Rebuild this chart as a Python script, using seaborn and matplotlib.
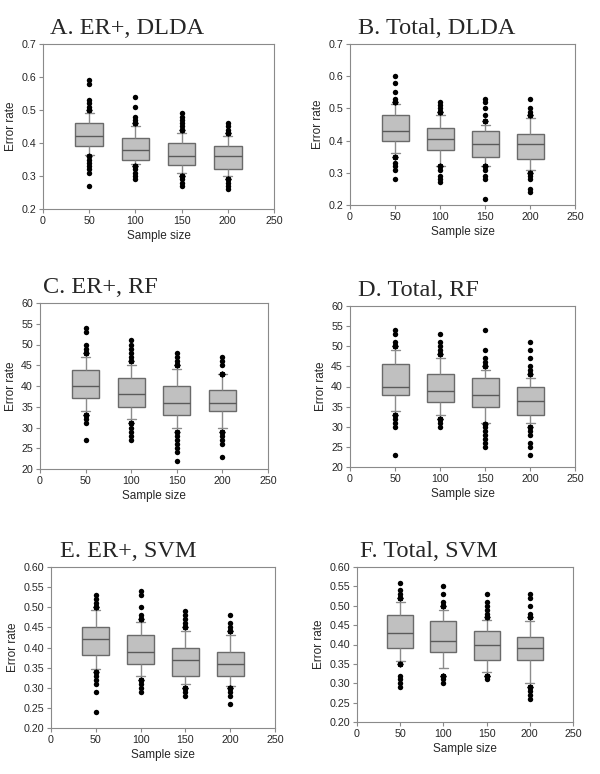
import numpy as np
import pandas as pd
import matplotlib
matplotlib.use("Agg")
import matplotlib.pyplot as plt
import seaborn as sns
from matplotlib.ticker import FormatStrFormatter, MultipleLocator

sizes = [50, 100, 150, 200]
titles = ["A. ER+, DLDA", "B. Total, DLDA", "C. ER+, RF",
          "D. Total, RF", "E. ER+, SVM", "F. Total, SVM"]

# (whisker low, Q1, median, Q3, whisker high) per sample size
A_stats = [(0.365, 0.39, 0.42, 0.46, 0.49), (0.335, 0.35, 0.38, 0.415, 0.45),
           (0.31, 0.332, 0.36, 0.40, 0.43), (0.30, 0.32, 0.36, 0.39, 0.42)]
A_low = [[0.27, 0.31, 0.32, 0.33, 0.34, 0.35, 0.36], [0.29, 0.30, 0.31, 0.32, 0.33],
         [0.27, 0.28, 0.29, 0.30], [0.26, 0.27, 0.28, 0.29]]
A_high = [[0.50, 0.51, 0.52, 0.53, 0.58, 0.59], [0.46, 0.47, 0.48, 0.51, 0.54],
          [0.44, 0.45, 0.46, 0.47, 0.48, 0.49], [0.43, 0.44, 0.45, 0.46]]

B_stats = [(0.362, 0.40, 0.43, 0.48, 0.513), (0.322, 0.37, 0.405, 0.44, 0.48),
           (0.322, 0.35, 0.39, 0.43, 0.45), (0.31, 0.343, 0.39, 0.42, 0.47)]
B_low = [[0.28, 0.31, 0.32, 0.33, 0.35], [0.27, 0.28, 0.29, 0.31, 0.32],
         [0.22, 0.28, 0.29, 0.31, 0.32], [0.24, 0.25, 0.28, 0.29, 0.30]]
B_high = [[0.52, 0.53, 0.55, 0.58, 0.60], [0.49, 0.50, 0.51, 0.52],
          [0.46, 0.48, 0.50, 0.52, 0.53], [0.48, 0.49, 0.50, 0.53]]

C_stats = [(34, 37, 40, 43.8, 47), (32, 35, 38, 42, 45),
           (30, 33, 36, 40, 44), (30, 34, 36, 39, 42.9)]
C_low = [[27, 31, 32, 33], [27, 28, 29, 30, 31],
         [22, 24, 25, 26, 27, 28, 29], [23, 26, 27, 28, 29]]
C_high = [[48, 49, 50, 53, 54], [46, 47, 48, 49, 50, 51],
          [45, 46, 47, 48], [43, 45, 46, 47]]

D_stats = [(34, 38, 40, 45.7, 49), (33, 36.2, 39, 43, 47),
           (31, 35, 38, 42, 44), (31, 33, 36.5, 40, 42)]
D_low = [[23, 30, 31, 32, 33], [30, 31, 32],
         [25, 26, 27, 28, 29, 30, 30.8], [23, 25, 26, 28, 29, 30]]
D_high = [[50, 51, 53, 54], [48, 49, 50, 51, 53],
          [45, 46, 47, 49, 54], [43, 44, 45, 47, 49, 51]]

E_stats = [(0.347, 0.382, 0.42, 0.45, 0.493), (0.33, 0.36, 0.39, 0.43, 0.463),
           (0.31, 0.33, 0.37, 0.40, 0.44), (0.305, 0.33, 0.36, 0.39, 0.43)]
E_low = [[0.24, 0.29, 0.31, 0.32, 0.33, 0.34], [0.29, 0.30, 0.31, 0.32],
         [0.28, 0.29, 0.30], [0.26, 0.28, 0.29, 0.30]]
E_high = [[0.50, 0.51, 0.52, 0.53], [0.47, 0.48, 0.50, 0.53, 0.54],
          [0.45, 0.46, 0.47, 0.48, 0.49], [0.44, 0.45, 0.46, 0.48]]

F_stats = [(0.357, 0.39, 0.43, 0.475, 0.51), (0.34, 0.38, 0.41, 0.46, 0.49),
           (0.33, 0.36, 0.40, 0.435, 0.463), (0.30, 0.36, 0.39, 0.42, 0.46)]
F_low = [[0.29, 0.30, 0.31, 0.32, 0.35], [0.30, 0.31, 0.32],
         [0.31, 0.32], [0.26, 0.27, 0.28, 0.29]]
F_high = [[0.52, 0.53, 0.54, 0.56], [0.50, 0.51, 0.53, 0.55],
          [0.47, 0.48, 0.49, 0.50, 0.51, 0.53], [0.47, 0.48, 0.50, 0.52, 0.53]]

panels = [(A_stats, A_low, A_high), (B_stats, B_low, B_high), (C_stats, C_low, C_high),
          (D_stats, D_low, D_high), (E_stats, E_low, E_high), (F_stats, F_low, F_high)]


def build_sample(stats, low, high):
    """100-value sample whose 10/25/50/75/90 structure reproduces the read stats."""
    wlo, q1, med, q3, whi = stats
    lo = sorted(low) + [max(low)] * (10 - len(low))
    hi = sorted(high) + [min(high)] * (10 - len(high))
    return lo + [wlo] + [q1] * 15 + [med] * 48 + [q3] * 15 + [whi] + hi


def panel_frame(stats, low, high):
    rows = []
    for n, s, l, h in zip(sizes, stats, low, high):
        for v in build_sample(s, l, h):
            rows.append((n, v))
    return pd.DataFrame(rows, columns=["n", "err"])


sns.set_style("white")
plt.rcParams["font.family"] = ["Liberation Sans", "DejaVu Sans"]

W, H = 600, 774
fig = plt.figure(figsize=(6, 7.74), dpi=100)

# pixel boxes: left, right, top, bottom
boxes = [(43, 274, 44, 209), (350, 575, 44, 205), (40, 268, 303, 469),
         (350, 575, 306, 467), (51, 275, 567, 728), (357, 573, 567, 722)]
title_dx = [7, 8, 3, 8, 9, 3]
ylims = [(0.2, 0.7), (0.2, 0.7), (20, 60), (20, 60), (0.2, 0.6), (0.2, 0.6)]
ysteps = [0.1, 0.1, 5, 5, 0.05, 0.05]
yfmts = ["%.1f", "%.1f", "%d", "%d", "%.2f", "%.2f"]

spine_col = "#8a8a8a"

for i, (st, lo, hi) in enumerate(panels):
    l, r, t, b = boxes[i]
    ax = fig.add_axes([l / W, 1 - b / H, (r - l) / W, (b - t) / H])
    df = panel_frame(st, lo, hi)
    sns.boxplot(data=df, x="n", y="err", native_scale=True, whis=(10, 90),
                width=0.6, color="#c0c0c0", linecolor="#6a6a6a", linewidth=1.0,
                saturation=1, fliersize=3.9, capwidths=10,
                whiskerprops={"color": "#8c8c8c"},
                capprops={"color": "#8c8c8c"},
                medianprops={"color": "#5a5a5a"},
                flierprops={"marker": "o", "markerfacecolor": "black",
                            "markeredgecolor": "black", "markeredgewidth": 0},
                ax=ax)
    ax.set_xlim(0, 250)
    ax.set_xticks([0, 50, 100, 150, 200, 250])
    ax.set_ylim(*ylims[i])
    ax.yaxis.set_major_locator(MultipleLocator(ysteps[i]))
    ax.yaxis.set_major_formatter(FormatStrFormatter(yfmts[i]))
    ax.set_xlabel("Sample size", fontsize=8.5, labelpad=3)
    ax.set_ylabel("Error rate", fontsize=8.5, labelpad=3)
    for sp in ax.spines.values():
        sp.set_visible(True)
        sp.set_color(spine_col)
        sp.set_linewidth(0.8)
    ax.tick_params(axis="both", which="major", direction="out", length=3,
                   width=0.8, color=spine_col, labelsize=7.7, pad=2,
                   bottom=True, left=True, top=False, right=False)
    ax.text(title_dx[i] / (r - l), 1 + 10 / (b - t), titles[i],
            transform=ax.transAxes, ha="left", va="baseline",
            fontsize=17.5, family=["Liberation Serif", "DejaVu Serif"])

fig.savefig("out.png", dpi=100)
